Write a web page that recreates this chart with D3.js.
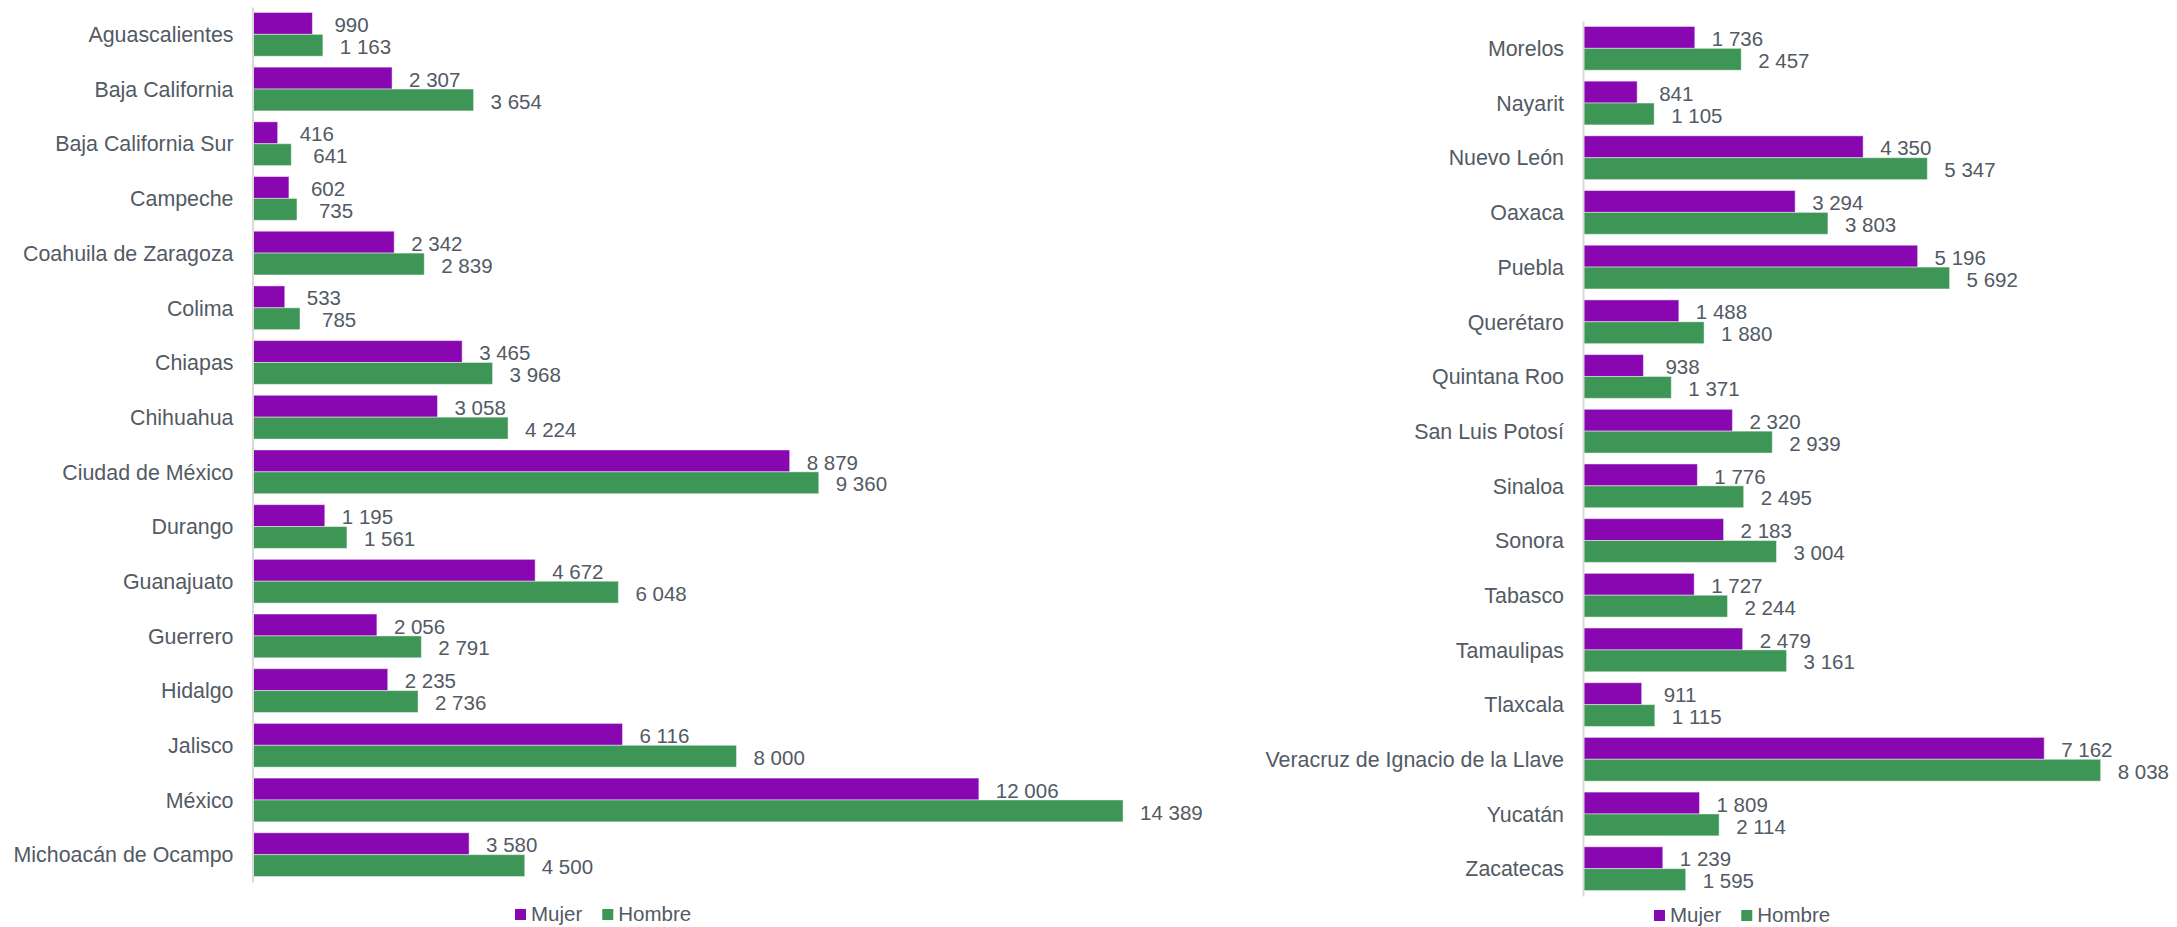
<!DOCTYPE html>
<html>
<head>
<meta charset="utf-8">
<script src="https://cdn.jsdelivr.net/npm/d3@7"></script>
<style>
  html, body { margin: 0; padding: 0; background: #fff; }
  svg text { font-family: "Liberation Sans", Arial, sans-serif; }
</style>
</head>
<body>
<svg id="chart" width="2177" height="927"></svg>
<script>
// series
const seriesNames = ["Mujer", "Hombre"];
const seriesColors = ["#8807b1", "#3d9655"];

// left panel
const leftStates = ["Aguascalientes", "Baja California", "Baja California Sur", "Campeche",
  "Coahuila de Zaragoza", "Colima", "Chiapas", "Chihuahua", "Ciudad de México", "Durango",
  "Guanajuato", "Guerrero", "Hidalgo", "Jalisco", "México", "Michoacán de Ocampo"];
const leftMujer = [990, 2307, 416, 602, 2342, 533, 3465, 3058, 8879, 1195, 4672, 2056, 2235, 6116, 12006, 3580];
const leftHombre = [1163, 3654, 641, 735, 2839, 785, 3968, 4224, 9360, 1561, 6048, 2791, 2736, 8000, 14389, 4500];

// right panel
const rightStates = ["Morelos", "Nayarit", "Nuevo León", "Oaxaca", "Puebla", "Querétaro",
  "Quintana Roo", "San Luis Potosí", "Sinaloa", "Sonora", "Tabasco", "Tamaulipas", "Tlaxcala",
  "Veracruz de Ignacio de la Llave", "Yucatán", "Zacatecas"];
const rightMujer = [1736, 841, 4350, 3294, 5196, 1488, 938, 2320, 1776, 2183, 1727, 2479, 911, 7162, 1809, 1239];
const rightHombre = [2457, 1105, 5347, 3803, 5692, 1880, 1371, 2939, 2495, 3004, 2244, 3161, 1115, 8038, 2114, 1595];

const textColor = "#525a64";
const fmt = v => d3.format(",")(v).replace(/,/g, " ");

const svg = d3.select("#chart");

function drawPanel(cfg) {
  const rows = cfg.states.map((s, i) => ({state: s, values: [cfg.mujer[i], cfg.hombre[i]]}));

  const y = d3.scaleBand()
    .domain(cfg.states)
    .range([cfg.top, cfg.bottom])
    .paddingInner(0.2)
    .paddingOuter(0.1);

  const ySub = d3.scaleBand()
    .domain(seriesNames)
    .range([0, y.bandwidth()]);

  const x = d3.scaleLinear()
    .domain([0, cfg.max])
    .range([cfg.left, cfg.left + cfg.width]);

  const g = svg.append("g");

  const groups = g.selectAll("g.row")
    .data(rows)
    .enter().append("g")
    .attr("class", "row")
    .attr("transform", d => "translate(0," + y(d.state) + ")");

  groups.selectAll("rect")
    .data(d => d.values.map((v, i) => ({v, i})))
    .enter().append("rect")
    .attr("x", x(0))
    .attr("y", d => ySub(seriesNames[d.i]))
    .attr("width", d => x(d.v) - x(0))
    .attr("height", ySub.bandwidth())
    .attr("fill", d => seriesColors[d.i])
    .attr("stroke", "rgba(255,255,255,0.45)")
    .attr("stroke-width", 1);

  groups.selectAll("text.val")
    .data(d => d.values.map((v, i) => ({v, i})))
    .enter().append("text")
    .attr("class", "val")
    .attr("x", d => x(d.v) + (d.v < 1000 ? 22 : 17))
    .attr("y", d => ySub(seriesNames[d.i]) + ySub.bandwidth() / 2)
    .attr("dy", "0.42em")
    .attr("font-size", 20.5)
    .attr("fill", textColor)
    .text(d => fmt(d.v));

  // category axis
  const axis = g.append("g")
    .attr("transform", "translate(" + x(0) + ",0)")
    .call(d3.axisLeft(y).tickSize(0).tickPadding(19));
  axis.select(".domain").attr("stroke", "#d9d9d9").attr("stroke-width", 2);
  axis.selectAll("text")
    .attr("font-size", 21.4)
    .attr("fill", textColor)
    .attr("dy", "0.36em");
  axis.raise();

  // legend
  const leg = g.append("g").attr("transform", "translate(" + cfg.legendX + "," + cfg.legendY + ")");
  let lx = 0;
  seriesNames.forEach((name, i) => {
    leg.append("rect")
      .attr("x", lx).attr("y", -12)
      .attr("width", 11).attr("height", 11)
      .attr("fill", seriesColors[i]);
    const t = leg.append("text")
      .attr("x", lx + 16).attr("y", 0)
      .attr("font-size", 20.5)
      .attr("fill", textColor)
      .text(name);
    lx += 16 + t.node().getComputedTextLength() + 20;
  });
}

drawPanel({
  states: leftStates, mujer: leftMujer, hombre: leftHombre,
  left: 252.5, width: 968, max: 16000,
  top: 7, bottom: 882,
  legendX: 515, legendY: 921
});

drawPanel({
  states: rightStates, mujer: rightMujer, hombre: rightHombre,
  left: 1583, width: 579.6, max: 9000,
  top: 21, bottom: 896,
  legendX: 1654, legendY: 922
});
</script>
</body>
</html>
